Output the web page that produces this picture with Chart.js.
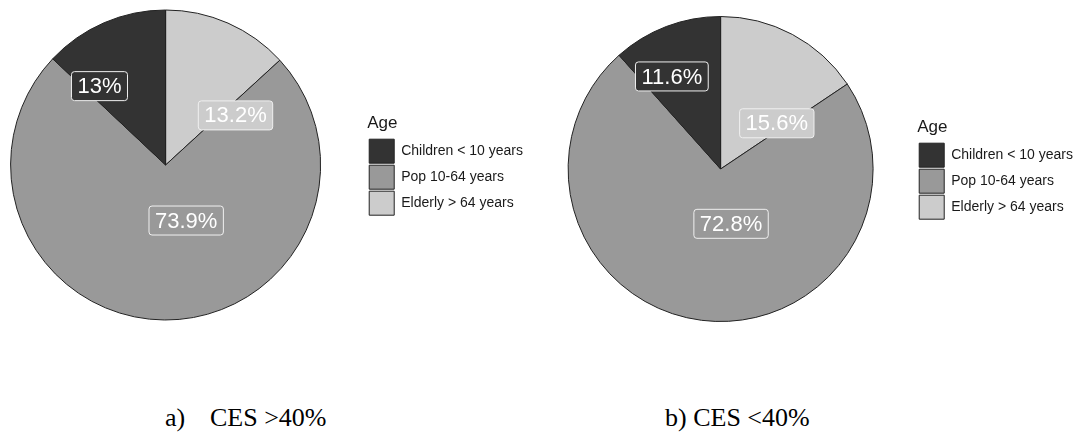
<!DOCTYPE html>
<html>
<head>
<meta charset="utf-8">
<script src="https://cdn.jsdelivr.net/npm/chart.js@4.4.1/dist/chart.umd.min.js"></script>
<style>
html,body{margin:0;padding:0;background:#fff;width:1080px;height:435px;overflow:hidden;position:relative;}
.wrap{position:absolute;}
.cap{position:absolute;font-family:"Liberation Serif","Times New Roman",serif;font-size:26px;line-height:26px;color:#000;white-space:pre;}
</style>
</head>
<body>
<div class="wrap" style="left:-36px;top:0;width:569px;height:340px;"><canvas id="ca"></canvas></div>
<div class="wrap" style="left:524px;top:0;width:559px;height:345px;"><canvas id="cb"></canvas></div>
<div class="cap" id="capA1" style="left:165px;top:405px"></div>
<div class="cap" id="capA2" style="left:210px;top:405px"></div>
<div class="cap" id="capB" style="left:665px;top:405px"></div>
<script>
// ---- data ----
const categories = ['Children < 10 years', 'Pop 10-64 years', 'Elderly > 64 years'];
const sharesA = [13.0, 73.9, 13.2];   // a) CES >40%
const sharesB = [11.6, 72.8, 15.6];   // b) CES <40%
const legendTitle = 'Age';
const captionA = ['a)', 'CES >40%'];
const captionB = 'b) CES <40%';

// ---- style ----
const fills = ['#333333', '#999999', '#cccccc'];
const FONT = '"Liberation Sans", Arial, sans-serif';

document.getElementById('capA1').textContent = captionA[0];
document.getElementById('capA2').textContent = captionA[1];
document.getElementById('capB').textContent = captionB;

const boxLabels = {
  id: 'boxLabels',
  afterDatasetsDraw(chart, args, opts) {
    const ctx = chart.ctx;
    const meta = chart.getDatasetMeta(0);
    const ds = chart.data.datasets[0];
    ctx.save();
    ctx.font = '22px ' + FONT;
    ctx.textAlign = 'center';
    ctx.textBaseline = 'middle';
    meta.data.forEach((arc, i) => {
      const p = arc.getProps(['x', 'y', 'startAngle', 'endAngle', 'outerRadius'], true);
      const mid = (p.startAngle + p.endAngle) / 2 + opts.shift[i] * Math.PI / 180;
      const r = p.outerRadius * opts.radius[i];
      const cx = p.x + Math.cos(mid) * r;
      const cy = p.y + Math.sin(mid) * r;
      const text = ds.data[i] + '%';
      const w = ctx.measureText(text).width + 12;
      const h = 29;
      ctx.beginPath();
      if (ctx.roundRect) ctx.roundRect(cx - w / 2, cy - h / 2, w, h, 3);
      else ctx.rect(cx - w / 2, cy - h / 2, w, h);
      ctx.fillStyle = ds.backgroundColor[i];
      ctx.fill();
      ctx.lineWidth = 1;
      ctx.strokeStyle = '#f0f0f0';
      ctx.stroke();
      ctx.fillStyle = '#ffffff';
      ctx.fillText(text, cx, cy + 1);
    });
    ctx.restore();
  }
};

function makePie(id, shares, padding, shift, radius) {
  // clockwise from 12 o'clock: Elderly, Pop, Children (legend reversed back)
  const labels = categories.slice().reverse();
  const data = shares.slice().reverse();
  const colors = fills.slice().reverse();
  return new Chart(document.getElementById(id), {
    type: 'pie',
    data: {
      labels: labels,
      datasets: [{
        data: data,
        backgroundColor: colors,
        borderColor: '#222222',
        borderWidth: 1,
        hoverBorderWidth: 1,
        hoverOffset: 0,
        offset: 0
      }]
    },
    options: {
      responsive: true,
      maintainAspectRatio: false,
      animation: false,
      events: [],
      layout: { padding: padding },
      plugins: {
        tooltip: { enabled: false },
        legend: {
          position: 'right',
          align: 'center',
          reverse: true,
          title: { display: true, text: legendTitle, position: 'start', color: '#1a1a1a', padding: 2, font: { family: FONT, size: 17 } },
          labels: { boxWidth: 25, boxHeight: 24, padding: 2, color: '#1a1a1a', font: { family: FONT, size: 14 } }
        },
        boxLabels: { shift: shift.slice().reverse(), radius: radius.slice().reverse() }
      }
    },
    plugins: [boxLabels]
  });
}

// label nudges (category order: Children, Pop, Elderly), like repelled labels
makePie('ca', sharesA, { left: 0, top: 9.5, right: 0, bottom: 19.5 }, [-16.6, -20.7, 30.9], [0.664, 0.382, 0.553]);
makePie('cb', sharesB, { left: 0, top: 16, right: 0, bottom: 23 }, [-6.9, -18, 22.8], [0.686, 0.366, 0.475]);
</script>
</body>
</html>
